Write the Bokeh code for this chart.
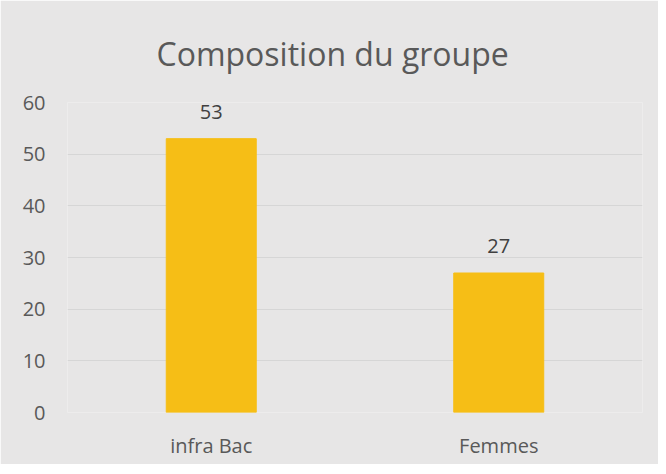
from bokeh.plotting import figure
from bokeh.embed import file_html
from bokeh.resources import INLINE
from bokeh.models import ColumnDataSource, Range1d, FixedTicker, LabelSet, Title
from bokeh.core.properties import value

categories = ["infra Bac", "Femmes"]
values = [53, 27]
y_ticks = [0, 10, 20, 30, 40, 50, 60]
title_text = "Composition du groupe"

BG = "#E7E6E6"
TXT = "#595959"
FONT = "Open Sans"

src = ColumnDataSource(dict(cat=categories, val=values, lbl=[str(v) for v in values]))

p = figure(x_range=categories, y_range=Range1d(0, 60), width=658, height=464,
           output_backend="svg", toolbar_location=None,
           min_border_left=67, min_border_right=16, min_border_top=102, min_border_bottom=52)
p.background_fill_color = BG
p.border_fill_color = BG
p.outline_line_color = None

p.vbar(x="cat", top="val", width=0.313, source=src, color="#F6BE16")

labels = LabelSet(x="cat", y="val", text="lbl", source=src, y_offset=20,
                  text_align="center", text_baseline="bottom",
                  text_font=value(FONT), text_font_size="20px", text_color="#404040")
p.add_layout(labels)

p.yaxis.ticker = FixedTicker(ticks=y_ticks)
p.yaxis.axis_line_color = None
p.yaxis.major_tick_line_color = None
p.yaxis.minor_tick_line_color = None
p.yaxis.major_label_standoff = 16
p.yaxis.major_label_text_font = FONT
p.yaxis.major_label_text_font_size = "20px"
p.yaxis.major_label_text_color = TXT

p.xaxis.axis_line_color = None
p.xaxis.major_tick_line_color = None
p.xaxis.major_label_standoff = 13
p.xaxis.major_label_text_font = FONT
p.xaxis.major_label_text_font_size = "20px"
p.xaxis.major_label_text_color = TXT

p.xgrid.grid_line_color = None
p.ygrid.grid_line_color = "#D6D6D6"
p.ygrid.grid_line_width = 1

p.x_range.range_padding = 0

t = Title(text=title_text, align="left", text_font=FONT,
          text_font_size="32px", text_font_style="normal", text_color=TXT,
          offset=89, standoff=56)
p.add_layout(t, "above")

open("out.html", "w").write(file_html(p, INLINE))
